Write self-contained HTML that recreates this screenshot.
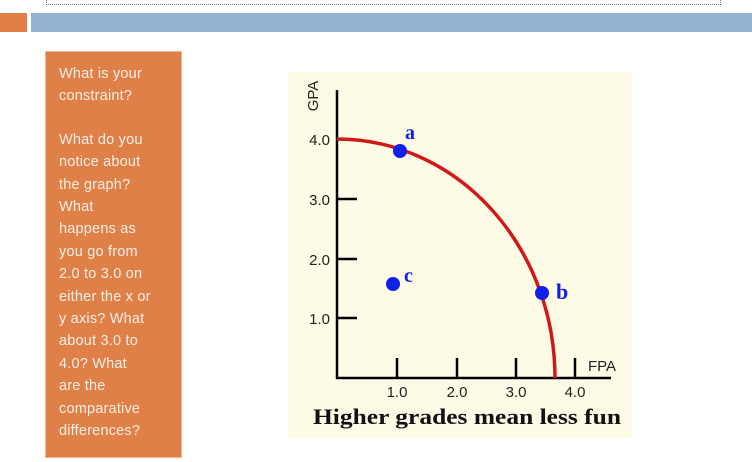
<!DOCTYPE html>
<html><head><style>
body{margin:0;width:752px;height:462px;background:#fff;position:relative;overflow:hidden;font-family:"Liberation Sans",sans-serif}
.box{position:absolute;left:45px;top:51px;width:137px;height:407px;background:#df8048;border:1px solid #f0b48e;box-sizing:border-box}
.txt{position:absolute;left:59px;top:63px;width:122px;color:#fbeee4;font-size:14.5px;line-height:22.4px;letter-spacing:0.2px}
</style></head><body>
<div style="position:absolute;left:46px;top:0;width:673px;height:4px;border:1px dotted #777;border-top:none"></div>
<div style="position:absolute;left:0;top:13px;width:27px;height:19px;background:#e07f46"></div>
<div style="position:absolute;left:31px;top:13px;width:721px;height:19px;background:#95b3d0"></div>
<div class="box"></div>
<div class="txt">What is your<br>constraint?<div style="height:21px"></div>What do you<br>notice about<br>the graph?<br>What<br>happens as<br>you go from<br>2.0 to 3.0 on<br>either the x or<br>y axis? What<br>about 3.0 to<br>4.0? What<br>are the<br>comparative<br>differences?</div>
<svg style="position:absolute;left:0;top:0" width="752" height="462">
<rect x="288" y="72" width="344" height="366" fill="#fdfbe6"/>
<g stroke="#000" stroke-width="2.5">
<line x1="337" y1="90" x2="337" y2="379"/>
<line x1="336" y1="378" x2="611" y2="378"/>
<line x1="337" y1="199" x2="357" y2="199"/><line x1="337" y1="259" x2="357" y2="259"/><line x1="337" y1="318" x2="357" y2="318"/>
<line x1="397" y1="378" x2="397" y2="358"/><line x1="457" y1="378" x2="457" y2="358"/><line x1="516" y1="378" x2="516" y2="358"/><line x1="575" y1="378" x2="575" y2="358"/>
</g>
<path d="M337 139 A218 239 0 0 1 555 378" fill="none" stroke="#d01818" stroke-width="3.5"/>
<g fill="#1020e8"><circle cx="400" cy="151" r="7"/><circle cx="542" cy="293" r="7"/><circle cx="393" cy="284" r="7"/></g>
<g fill="#1020e8" font-family="Liberation Serif,serif" font-weight="bold"><text x="405" y="139" font-size="20">a</text><text x="404" y="282" font-size="20">c</text><text x="556" y="299" font-size="22">b</text></g>
<g font-size="15" fill="#222" text-anchor="end"><text x="330" y="145">4.0</text><text x="330" y="205">3.0</text><text x="330" y="265">2.0</text><text x="330" y="324">1.0</text></g>
<g font-size="15" fill="#222" text-anchor="middle"><text x="397" y="397">1.0</text><text x="457" y="397">2.0</text><text x="516" y="397">3.0</text><text x="575" y="397">4.0</text><text x="602" y="371">FPA</text></g>
<text transform="translate(318,96) rotate(-90)" font-size="15" fill="#222" text-anchor="middle">GPA</text>
<text x="313" y="424" textLength="308" lengthAdjust="spacingAndGlyphs" font-family="Liberation Serif,serif" font-weight="bold" font-size="22" fill="#111">Higher grades mean less fun</text>
</svg>
</body></html>
